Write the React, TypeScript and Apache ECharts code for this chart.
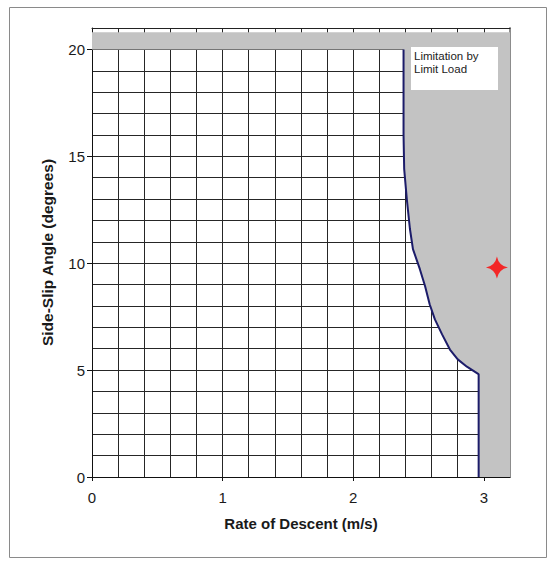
import React, { useEffect, useRef } from "react";
import * as echarts from "echarts";

// Limit-load boundary (rate of descent m/s vs side-slip angle deg)
const curveX = [2.96, 2.96, 2.95, 2.87, 2.8, 2.74, 2.68, 2.625, 2.585, 2.55, 2.51, 2.457, 2.434, 2.41, 2.39, 2.385, 2.385];
const curveY = [0, 4.8, 4.85, 5.16, 5.5, 5.96, 6.67, 7.37, 8.08, 8.92, 9.72, 10.66, 11.6, 13.0, 14.4, 16, 20];

// Closure of the shaded (limited) region beyond the boundary
const shadeTopY = 20.8;
const xMax = 3.2;
const yMax = 21;

// Test point (red star)
const pointX = [3.1];
const pointY = [9.8];

const xTickValues = [0, 1, 2, 3];
const yTickValues = [0, 5, 10, 15, 20];

const xName = "Rate of Descent (m/s)";
const yName = "Side-Slip Angle (degrees)";
const noteLines = ["Limitation by", "Limit Load"];

const FONT = "'Liberation Sans', Arial, sans-serif";

export default function App() {
  const ref = useRef<HTMLDivElement>(null);

  useEffect(() => {
    if (!ref.current) return;
    const chart = echarts.init(ref.current, null, { renderer: "svg" });

    const curve = curveX.map((x, i) => [x, curveY[i]]);
    const shade: number[][] = [
      ...curve,
      [0, curveY[curveY.length - 1]],
      [0, shadeTopY],
      [xMax, shadeTopY],
      [xMax, 0],
    ];
    const points = pointX.map((x, i) => [x, pointY[i]]);

    const gridColor = "#262626";
    const labelStyle = { color: "#1a1a1a", fontFamily: FONT, fontSize: 15 };

    chart.setOption({
      animation: false,
      backgroundColor: "#ffffff",
      textStyle: { fontFamily: FONT },
      grid: { left: 92, top: 28, right: 41, bottom: 85, outerBoundsMode: "none" },
      xAxis: [
        {
          type: "value",
          position: "bottom",
          min: 0,
          max: xMax,
          interval: 1,
          axisLine: { show: true, onZero: false, lineStyle: { color: "#111", width: 1 } },
          axisTick: { show: true, length: 4, customValues: xTickValues, lineStyle: { color: "#111" } },
          axisLabel: { ...labelStyle, margin: 13, customValues: xTickValues },
          splitLine: { show: false },
          name: xName,
          nameLocation: "middle",
          nameGap: 39,
          nameTextStyle: { fontFamily: FONT, fontSize: 15, fontWeight: "bold", color: "#1a1a1a" },
        },
        {
          type: "value",
          position: "top",
          min: 0,
          max: xMax,
          interval: 0.2,
          axisLine: { show: true, onZero: false, lineStyle: { color: "#222", width: 1 } },
          axisTick: { show: false },
          axisLabel: { show: false },
          splitLine: { show: true, lineStyle: { color: gridColor, width: 1 } },
        },
      ],
      yAxis: [
        {
          type: "value",
          position: "left",
          min: 0,
          max: yMax,
          interval: 5,
          axisLine: { show: true, onZero: false, lineStyle: { color: "#111", width: 1 } },
          axisTick: { show: true, length: 5, customValues: yTickValues, lineStyle: { color: "#111" } },
          axisLabel: { ...labelStyle, margin: 7, customValues: yTickValues },
          splitLine: { show: false },
          name: yName,
          nameLocation: "middle",
          nameRotate: 90,
          nameGap: 37,
          nameTextStyle: { fontFamily: FONT, fontSize: 15.5, fontWeight: "bold", color: "#1a1a1a" },
        },
        {
          type: "value",
          position: "right",
          min: 0,
          max: yMax,
          interval: 1,
          axisLine: { show: true, onZero: false, lineStyle: { color: "#8c8c8c", width: 2 } },
          axisTick: { show: false },
          axisLabel: { show: false },
          splitLine: { show: true, lineStyle: { color: gridColor, width: 1 } },
        },
      ],
      series: [
        {
          type: "custom",
          xAxisIndex: 0,
          yAxisIndex: 0,
          data: [0],
          z: 2,
          silent: true,
          renderItem: (_params: any, api: any) => ({
            type: "polygon",
            shape: { points: shade.map((p) => api.coord(p)) },
            style: { fill: "#c3c3c3", stroke: "none" },
          }),
        },
        {
          type: "line",
          xAxisIndex: 0,
          yAxisIndex: 0,
          data: curve,
          symbol: "none",
          z: 3,
          lineStyle: { color: "#1c1c6a", width: 2 },
        },
        {
          type: "scatter",
          xAxisIndex: 0,
          yAxisIndex: 0,
          data: points,
          z: 4,
          symbol: "path://M0,-10 Q1.6,-1.6 10,0 Q1.6,1.6 0,10 Q-1.6,1.6 -10,0 Q-1.6,-1.6 0,-10 Z",
          symbolSize: 22,
          itemStyle: { color: "#ff0000" },
        },
      ],
      graphic: [
        {
          type: "rect",
          left: 7,
          top: 5,
          shape: { width: 537, height: 550 },
          style: { fill: "none", stroke: "#8a8a8a", lineWidth: 1 },
          silent: true,
          z: 0,
        },
        {
          type: "rect",
          left: 411,
          top: 47,
          z: 100,
          shape: { width: 87, height: 43 },
          style: { fill: "#ffffff", stroke: "none" },
        },
        {
          type: "text",
          left: 414,
          top: 49,
          z: 101,
          style: {
            text: noteLines.join("\n"),
            fontFamily: FONT,
            fontSize: 11.5,
            lineHeight: 13,
            fill: "#222",
          },
        },
      ],
    });

    return () => chart.dispose();
  }, []);

  return (
    <div
      ref={ref}
      style={{ position: "absolute", left: 0, top: 0, width: 551, height: 562 }}
    />
  );
}
